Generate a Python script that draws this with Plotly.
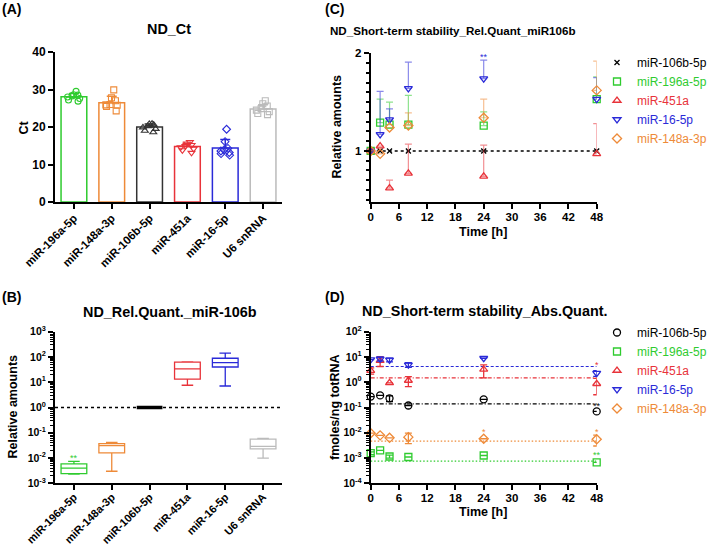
import math
import plotly.graph_objects as go

W, H = 709, 545
FONT = "Arial, Liberation Sans, sans-serif"


def px(x):
    return x / W


def py(y):
    return 1 - y / H


# ---------------- colours ----------------
C_GREEN = "#2FCB2F"
C_ORANGE = "#EE8A38"
C_BLACK = "#333333"
C_RED = "#E8333A"
C_BLUE = "#2A2AD8"
C_GRAY = "#BBBBBB"

# ---------------- Panel A: Ct ----------------
mirs = ["miR-196a-5p", "miR-148a-3p", "miR-106b-5p", "miR-451a", "miR-16-5p", "U6 snRNA"]
ct_196a = [29.5, 28.6, 28.3, 28.0, 27.6, 27.2, 26.9, 28.5]
ct_148a = [29.9, 27.8, 27.0, 26.0, 25.8, 25.5, 24.3, 25.9]
ct_106b = [20.8, 20.6, 20.2, 19.9, 19.5, 19.0, 18.6, 20.9]
ct_451a = [16.0, 15.6, 15.2, 14.9, 14.6, 14.2, 13.8, 13.1]
ct_16 = [19.4, 16.1, 14.3, 13.9, 13.6, 13.2, 12.9, 12.5]
ct_u6 = [27.0, 26.2, 25.6, 24.9, 24.5, 24.1, 23.6, 23.3]
ct_mean = [28.1, 26.5, 20.0, 14.8, 14.4, 24.8]
ct_sd = [0.8, 1.7, 0.8, 0.9, 2.3, 1.1]
ct_ticks = [0, 10, 20, 30, 40]

# ---------------- Panel B: relative quantities (box stats) ----------------
rq_low = [0.0023, 0.003, 1.0, 7.6, 7.1, 0.0100]
rq_q1 = [0.0024, 0.016, 1.0, 13.2, 40.0, 0.023]
rq_median = [0.0040, 0.031, 1.0, 34.0, 60.0, 0.029]
rq_q3 = [0.0059, 0.037, 1.0, 62.0, 89.0, 0.056]
rq_high = [0.0074, 0.042, 1.0, 64.0, 141.0, 0.060]
rq_exponents = [-3, -2, -1, 0, 1, 2, 3]

# ---------------- Panel C: short-term stability, relative ----------------
time_h = [0, 2, 4, 8, 24, 48]
time_ticks = [0, 6, 12, 18, 24, 30, 36, 42, 48]
rel_ticks = [1, 2]
rel_106b = [1.0, 1.0, 1.0, 1.0, 1.0, 1.0]
rel_196a = [1.0, 1.29, 1.27, 1.27, 1.26, 1.53]
rel_196a_err = [None, 0.24, 0.23, 0.30, 0.14, 0.23]
rel_451a = [1.0, 1.05, 0.62, 0.77, 0.74, 0.97]
rel_451a_err = [None, None, 0.08, 0.30, 0.32, 0.31]
rel_16 = [1.0, 1.17, 1.32, 1.64, 1.74, 1.53]
rel_16_err = [None, 0.44, 0.11, 0.27, 0.19, 0.22]
rel_148a = [1.0, 0.97, 1.24, 1.26, 1.34, 1.62]
rel_148a_err = [None, None, None, 0.13, 0.19, 0.30]

# ---------------- Panel D: short-term stability, absolute ----------------
abs_106b = [0.27, 0.30, 0.23, 0.12, 0.21, 0.07]
abs_106b_err = [None, None, 0.06, None, None, None]
abs_196a = [0.00155, 0.0020, 0.00115, 0.0011, 0.00126, 0.00067]
abs_196a_err = [0.0002, None, 0.00015, None, None, None]
abs_451a = [2.9, 7.2, 0.95, 1.17, 3.2, 0.87]
abs_451a_err = [0.8, 3.0, None, 0.5, 1.7, 0.55]
abs_16 = [7.9, 8.4, 7.7, 4.9, 8.9, 2.3]
abs_16_err = [None, 1.5, 1.3, 1.0, None, 0.6]
abs_148a = [0.0096, 0.0079, 0.0063, 0.0067, 0.0058, 0.0055]
abs_148a_err = [None, None, None, 0.003, None, 0.0025]
abs_ref_106b = 0.14
abs_ref_196a = 0.00075
abs_ref_451a = 1.5
abs_ref_16 = 4.2
abs_ref_148a = 0.0047
abs_exponents = [-4, -3, -2, -1, 0, 1, 2]

fig = go.Figure()

# ---- Panel A traces
a_points = [ct_196a, ct_148a, ct_106b, ct_451a, ct_16, ct_u6]
a_cols = [C_GREEN, C_ORANGE, C_BLACK, C_RED, C_BLUE, C_GRAY]
a_syms = ["circle-open", "square-open", "triangle-up-open", "triangle-down-open",
          "diamond-open", "square-open"]
for name, pts, m, sd, col, sym in zip(mirs, a_points, ct_mean, ct_sd, a_cols, a_syms):
    fig.add_trace(go.Bar(
        x=[name], y=[m], width=0.68, xaxis="x", yaxis="y", showlegend=False,
        marker=dict(color="white", line=dict(color=col, width=1.5)),
        error_y=dict(type="data", array=[sd], arrayminus=[0], symmetric=False,
                     color=col, thickness=1.5, width=5),
    ))
    fig.add_trace(go.Box(
        x=[name] * len(pts), y=pts, boxpoints="all", jitter=0.9, pointpos=0,
        width=0.5, xaxis="x", yaxis="y", showlegend=False,
        fillcolor="rgba(0,0,0,0)", line=dict(color="rgba(0,0,0,0)", width=0),
        marker=dict(symbol=sym, color=col, size=6, line=dict(width=1.1, color=col)),
    ))

# ---- Panel B traces
for i, (name, col) in enumerate(zip(mirs, a_cols)):
    is_ref = name == "miR-106b-5p"
    fig.add_trace(go.Box(
        x=[name], q1=[rq_q1[i]], median=[rq_median[i]], q3=[rq_q3[i]],
        lowerfence=[rq_low[i]], upperfence=[rq_high[i]],
        xaxis="x2", yaxis="y2", showlegend=False, boxpoints=False,
        width=0.68, whiskerwidth=0.45, fillcolor="white",
        line=dict(color="black" if is_ref else col, width=3.5 if is_ref else 1.3),
    ))

# ---- Panel C traces
fig.add_trace(go.Scatter(
    x=time_h, y=rel_106b, mode="lines", xaxis="x3", yaxis="y3", showlegend=False,
    line=dict(color="black", width=1.6, dash="dot"), cliponaxis=False,
))
c_series = [
    ("miR-106b-5p", rel_106b, None, "black", "x-thin", None, 5),
    ("miR-196a-5p", rel_196a, rel_196a_err, C_GREEN, "square-open", "rgba(47,203,47,0.55)", 7),
    ("miR-451a", rel_451a, rel_451a_err, C_RED, "triangle-up-open", "rgba(232,51,58,0.55)", 7),
    ("miR-16-5p", rel_16, rel_16_err, C_BLUE, "triangle-down-open", "rgba(42,42,216,0.55)", 7),
    ("miR-148a-3p", rel_148a, rel_148a_err, C_ORANGE, "diamond-open", "rgba(238,138,56,0.55)", 7),
]
for name, ys, err, col, sym, ecol, sz in c_series:
    kw = {}
    if err is not None:
        kw["error_y"] = dict(type="data", array=err, arrayminus=[0] * len(err),
                             symmetric=False, color=ecol, thickness=1.2, width=3.5)
    fig.add_trace(go.Scatter(
        x=time_h, y=ys, mode="markers", xaxis="x3", yaxis="y3", legend="legend",
        name=f"<span style='color:{col}'>{name}</span>",
        marker=dict(symbol=sym, size=sz, color=col, line=dict(width=1.3, color=col)),
        cliponaxis=False, **kw,
    ))

# ---- Panel D traces
d_lines = [
    (abs_ref_106b, "black", "4px,2px,1px,2px"),
    (abs_ref_196a, C_GREEN, "1.5px,2px"),
    (abs_ref_451a, C_RED, "4px,2px,1px,2px"),
    (abs_ref_16, C_BLUE, "3px,2px"),
    (abs_ref_148a, C_ORANGE, "1.5px,2px"),
]
for level, col, dash in d_lines:
    fig.add_trace(go.Scatter(
        x=[time_h[0], time_h[-1]], y=[level, level], mode="lines",
        xaxis="x4", yaxis="y4", showlegend=False,
        line=dict(color=col, width=1.2, dash=dash),
    ))
d_series = [
    ("miR-106b-5p", abs_106b, abs_106b_err, "black", "circle-open"),
    ("miR-196a-5p", abs_196a, abs_196a_err, C_GREEN, "square-open"),
    ("miR-451a", abs_451a, abs_451a_err, C_RED, "triangle-up-open"),
    ("miR-16-5p", abs_16, abs_16_err, C_BLUE, "triangle-down-open"),
    ("miR-148a-3p", abs_148a, abs_148a_err, C_ORANGE, "diamond-open"),
]
for name, ys, err, col, sym in d_series:
    fig.add_trace(go.Scatter(
        x=time_h, y=ys, mode="markers", xaxis="x4", yaxis="y4", legend="legend2",
        name=f"<span style='color:{col}'>{name}</span>",
        marker=dict(symbol=sym, size=7, color=col, line=dict(width=1.3, color=col)),
        error_y=dict(type="data", array=err, color=col, thickness=1.3, width=3.5),
        cliponaxis=False,
    ))

# ---------------- axes ----------------
tickfont = dict(family=FONT, size=12, color="black", weight="bold")
logfont = dict(tickfont, size=10.5)
catfont = dict(tickfont, size=11.5)
common = dict(showline=True, linecolor="black", linewidth=2, ticks="outside",
              ticklen=5, tickwidth=2, tickcolor="black", showgrid=False,
              zeroline=False, tickfont=tickfont)
dom_x_left = [px(55), px(282)]
dom_x_right = [px(370.7), px(596.7)]


def pow_text(e):
    return f"10<sup>{e}</sup>"


fig.update_layout(
    xaxis=dict(common, domain=dom_x_left, anchor="y", type="category",
               range=[-0.5, 5.5], tickangle=-45, tickfont=catfont,
               ticklabelstandoff=-2),
    yaxis=dict(common, domain=[py(202), py(52)], anchor="x", range=[0, 40],
               tickvals=ct_ticks),
    xaxis2=dict(common, domain=dom_x_left, anchor="y2", type="category",
                range=[-0.5, 5.5], tickangle=-45, tickfont=dict(tickfont, size=11),
                ticklabelstandoff=-4),
    yaxis2=dict(common, domain=[py(483.3), py(331.7)], anchor="x2", type="log",
                range=[-3, 3], tickvals=[10 ** e for e in rq_exponents],
                ticktext=[pow_text(e) for e in rq_exponents], tickfont=logfont,
                minor=dict(ticks="outside", ticklen=3, tickwidth=1, dtick="D1",
                           tickcolor="black", showgrid=False)),
    xaxis3=dict(common, domain=dom_x_right, anchor="y3", range=[0, 48],
                tickvals=time_ticks, tickfont=dict(tickfont, size=11.5),
                ticklabelstandoff=-2),
    yaxis3=dict(common, domain=[py(201.7), py(53.3)], anchor="x3", range=[0.48, 2],
                tickvals=rel_ticks, tickfont=dict(tickfont, size=11.5),
                minor=dict(ticks="outside", ticklen=3, tickwidth=1.5, dtick=0.1,
                           tick0=0, tickcolor="black", showgrid=False)),
    xaxis4=dict(common, domain=dom_x_right, anchor="y4", range=[0, 48],
                tickvals=time_ticks, tickfont=dict(tickfont, size=11.5),
                ticklabelstandoff=-2),
    yaxis4=dict(common, domain=[py(483.3), py(331.7)], anchor="x4", type="log",
                range=[-4, 2], tickvals=[10 ** e for e in abs_exponents],
                ticktext=[pow_text(e) for e in abs_exponents], tickfont=logfont,
                minor=dict(ticks="outside", ticklen=3, tickwidth=1, dtick="D1",
                           tickcolor="black", showgrid=False)),
)

# reference line at 1 in panel B
fig.add_shape(type="line", xref="x2 domain", yref="y2", x0=0, x1=1, y0=1, y1=1,
              line=dict(color="black", width=1.6, dash="dot"), layer="below")

# ---------------- legends ----------------
leg_common = dict(xanchor="left", yanchor="top", font=dict(family=FONT, size=12),
                  bgcolor="rgba(0,0,0,0)", borderwidth=0, tracegroupgap=0,
                  itemwidth=30)
fig.update_layout(
    legend=dict(leg_common, x=px(597), y=py(48)),
    legend2=dict(leg_common, x=px(597), y=py(318)),
    showlegend=True,
)

# ---------------- text ----------------
ann = []


def text(x, y, t, size=14, bold=True, color="black", angle=0, xanchor="center"):
    ann.append(dict(x=px(x), y=py(y), xref="paper", yref="paper", text=t,
                    showarrow=False, xanchor=xanchor, yanchor="middle",
                    textangle=angle,
                    font=dict(family=FONT, size=size, color=color,
                              weight="bold" if bold else "normal")))


text(0, 9, "(A)", xanchor="left")
text(0, 297, "(B)", xanchor="left")
text(323, 9, "(C)", xanchor="left")
text(323, 297, "(D)", xanchor="left")
text(169, 29, "ND_Ct", size=14.4)
text(170, 311.7, "ND_Rel.Quant._miR-106b", size=14.4)
text(452, 30, "ND_Short-term stability_Rel.Quant_miR106b", size=11.6)
text(484.5, 311, "ND_Short-term stability_Abs.Quant.", size=14.4)
text(23.5, 127, "Ct", size=12.5, angle=-90)
text(12.5, 407, "Relative amounts", size=12.5, angle=-90)
text(336.5, 127, "Relative amounts", size=12.5, angle=-90)
text(335, 407, "fmoles/ng totRNA", size=12.5, angle=-90)
text(483, 232, "Time [h]", size=12.5)
text(483, 512, "Time [h]", size=12.5)

# significance marks
stars = [
    ("x2", "y2", "miR-196a-5p", 0.0105, "**", C_GREEN),
    ("x3", "y3", 24, 1.96, "**", C_BLUE),
    ("x4", "y4", 48, 0.115, "**", "black"),
    ("x4", "y4", 48, 0.00128, "**", C_GREEN),
    ("x4", "y4", 24, 0.0105, "*", C_ORANGE),
    ("x4", "y4", 48, 0.0105, "*", C_ORANGE),
    ("x4", "y4", 48, 4.6, "*", C_RED),
]
for xr, yr, xv, yv, s, col in stars:
    log_axis = yr in ("y2", "y4")
    ann.append(dict(x=xv, y=math.log10(yv) if log_axis else yv, xref=xr, yref=yr,
                    text=s, showarrow=False, yanchor="middle",
                    font=dict(family=FONT, size=9, color=col)))

fig.update_layout(
    annotations=ann,
    width=W, height=H, margin=dict(l=0, r=0, t=0, b=0, autoexpand=False),
    paper_bgcolor="white", plot_bgcolor="white",
    barmode="overlay", boxmode="overlay",
    font=dict(family=FONT, color="black"),
)

fig.write_html("out.html")
